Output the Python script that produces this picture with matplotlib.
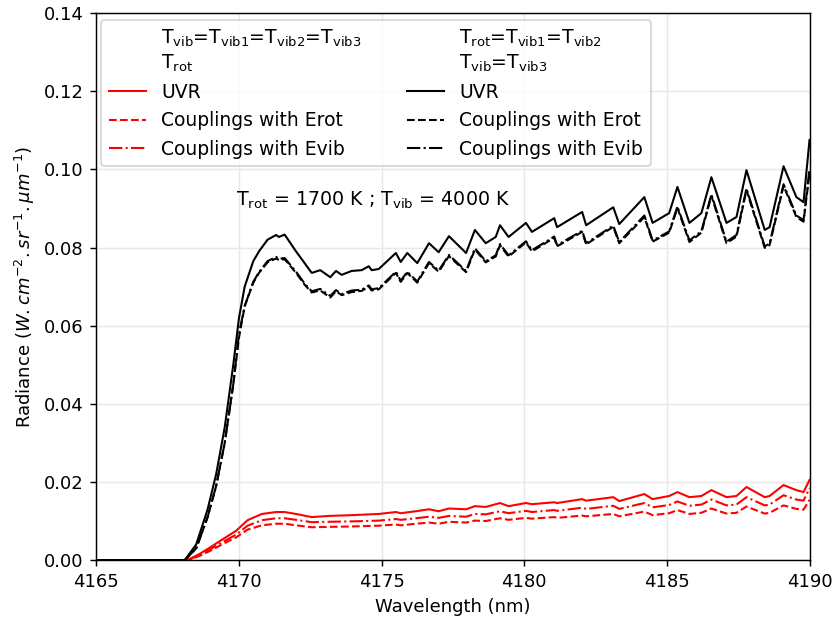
import matplotlib
matplotlib.use("Agg")
import matplotlib.pyplot as plt
from matplotlib.lines import Line2D

# black curves : Trot=Tvib1=Tvib2, Tvib=Tvib3
wl_black = [4165.0, 4168.1, 4168.5, 4168.9, 4169.2, 4169.5, 4169.8, 4170.0, 4170.2, 4170.5,
            4170.7, 4171.0, 4171.3, 4171.4, 4171.6, 4172.0, 4172.3, 4172.55, 4172.85, 4173.2,
            4173.4, 4173.6, 4173.95, 4174.3, 4174.55, 4174.65, 4174.9, 4175.5, 4175.67, 4175.9,
            4176.25, 4176.66, 4177.0, 4177.36, 4177.96, 4178.27, 4178.65, 4179.0, 4179.15, 4179.45,
            4180.06, 4180.27, 4181.05, 4181.15, 4182.03, 4182.17, 4183.12, 4183.33, 4184.21, 4184.5,
            4185.08, 4185.37, 4185.79, 4186.21, 4186.56, 4187.09, 4187.44, 4187.79, 4188.43, 4188.6,
            4189.09, 4189.54, 4189.79, 4190.0]
uvr_black = [0, 0, 0.004, 0.013, 0.022, 0.034, 0.050, 0.062, 0.070, 0.0765,
             0.0790, 0.0820, 0.0832, 0.0827, 0.0833, 0.0790, 0.0760, 0.0735, 0.0742, 0.0724,
             0.0740, 0.0730, 0.0740, 0.0742, 0.0752, 0.0742, 0.0745, 0.0786, 0.0763, 0.0786,
             0.0760, 0.0811, 0.0788, 0.0829, 0.0786, 0.0845, 0.0811, 0.0827, 0.0857, 0.0827,
             0.0863, 0.0840, 0.0875, 0.0852, 0.0891, 0.0857, 0.0903, 0.0860, 0.0929, 0.0863,
             0.0888, 0.0955, 0.0863, 0.0888, 0.0980, 0.0863, 0.0878, 0.0998, 0.0845, 0.0852,
             0.1008, 0.0929, 0.0916, 0.1075]
erot_black = [0, 0, 0.003, 0.011, 0.019, 0.030, 0.045, 0.057, 0.065, 0.0710,
              0.0735, 0.0762, 0.0772, 0.0768, 0.0770, 0.0735, 0.0705, 0.0685, 0.0690, 0.0672,
              0.0688, 0.0678, 0.0686, 0.0689, 0.0700, 0.0690, 0.0693, 0.0735, 0.0712, 0.0735,
              0.0710, 0.0760, 0.0738, 0.0778, 0.0737, 0.0795, 0.0762, 0.0777, 0.0806, 0.0777,
              0.0813, 0.0790, 0.0825, 0.0803, 0.0840, 0.0808, 0.0853, 0.0811, 0.0878, 0.0815,
              0.0838, 0.0901, 0.0814, 0.0838, 0.0932, 0.0811, 0.0828, 0.0947, 0.0799, 0.0806,
              0.0958, 0.0878, 0.0866, 0.0990]
evib_black = [0, 0, 0.003, 0.011, 0.019, 0.030, 0.045, 0.058, 0.065, 0.0712,
              0.0737, 0.0765, 0.0776, 0.0771, 0.0773, 0.0738, 0.0708, 0.0688, 0.0694, 0.0676,
              0.0691, 0.0681, 0.0690, 0.0692, 0.0703, 0.0693, 0.0696, 0.0738, 0.0715, 0.0738,
              0.0713, 0.0763, 0.0741, 0.0781, 0.0740, 0.0798, 0.0765, 0.0780, 0.0809, 0.0780,
              0.0816, 0.0793, 0.0828, 0.0806, 0.0843, 0.0811, 0.0856, 0.0814, 0.0882, 0.0818,
              0.0841, 0.0905, 0.0818, 0.0842, 0.0936, 0.0815, 0.0832, 0.0951, 0.0803, 0.0810,
              0.0962, 0.0882, 0.0870, 0.1000]

# red curves : Tvib=Tvib1=Tvib2=Tvib3, Trot
wl_red = [4165.0, 4168.2, 4168.6, 4169.0, 4169.4, 4169.9, 4170.3, 4170.8, 4171.3, 4171.6,
          4172.0, 4172.55, 4173.15, 4173.95, 4174.9, 4175.5, 4175.67, 4176.2, 4176.66, 4177.0,
          4177.36, 4177.96, 4178.27, 4178.65, 4179.15, 4179.45, 4180.06, 4180.27, 4181.05, 4181.15,
          4182.03, 4182.17, 4183.12, 4183.33, 4184.21, 4184.5, 4185.08, 4185.37, 4185.79, 4186.21,
          4186.56, 4187.09, 4187.44, 4187.79, 4188.43, 4188.6, 4189.09, 4189.54, 4189.79, 4190.0]
uvr_red = [0, 0, 0.0015, 0.0033, 0.0052, 0.0075, 0.0102, 0.0118, 0.0123, 0.0123,
           0.0118, 0.0110, 0.0113, 0.0115, 0.0118, 0.0123, 0.0120, 0.0125, 0.0130, 0.0125,
           0.0132, 0.0130, 0.0138, 0.0136, 0.0146, 0.0138, 0.0146, 0.0143, 0.0148, 0.0146,
           0.0156, 0.0152, 0.0161, 0.0151, 0.0169, 0.0156, 0.0164, 0.0174, 0.0161, 0.0164,
           0.0179, 0.0161, 0.0164, 0.0187, 0.0161, 0.0164, 0.0192, 0.0179, 0.0174, 0.0205]
evib_red = [0, 0, 0.0012, 0.0028, 0.0045, 0.0065, 0.0088, 0.0102, 0.0107, 0.0107,
            0.0103, 0.0097, 0.0098, 0.0099, 0.0101, 0.0105, 0.0103, 0.0107, 0.0111, 0.0108,
            0.0113, 0.0111, 0.0118, 0.0117, 0.0125, 0.0120, 0.0126, 0.0123, 0.0128, 0.0126,
            0.0134, 0.0131, 0.0139, 0.0131, 0.0146, 0.0135, 0.0141, 0.0150, 0.0139, 0.0142,
            0.0155, 0.0140, 0.0142, 0.0161, 0.0140, 0.0142, 0.0166, 0.0155, 0.0152, 0.0184]
erot_red = [0, 0, 0.0010, 0.0024, 0.0040, 0.0058, 0.0078, 0.0089, 0.0093, 0.0093,
            0.0089, 0.0084, 0.0085, 0.0086, 0.0088, 0.0091, 0.0089, 0.0093, 0.0096, 0.0093,
            0.0098, 0.0096, 0.0101, 0.0100, 0.0107, 0.0103, 0.0108, 0.0106, 0.0110, 0.0108,
            0.0114, 0.0112, 0.0118, 0.0112, 0.0124, 0.0115, 0.0120, 0.0128, 0.0118, 0.0121,
            0.0132, 0.0119, 0.0121, 0.0137, 0.0119, 0.0121, 0.0140, 0.0131, 0.0129, 0.0154]

lw = 1.15

# drawn at dpi 130 so ticks / fonts scale like the original
fig = plt.figure(figsize=(838 / 130, 623 / 130), dpi=130)
ax = fig.add_axes([0.115, 0.101, 0.851, 0.878])

ax.plot(wl_red, uvr_red, color='red', ls='-', lw=lw)
ax.plot(wl_red, erot_red, color='red', ls='--', lw=lw)
ax.plot(wl_red, evib_red, color='red', ls='-.', lw=lw)
ax.plot(wl_black, uvr_black, color='black', ls='-', lw=lw)
ax.plot(wl_black, erot_black, color='black', ls='--', lw=lw)
ax.plot(wl_black, evib_black, color='black', ls='-.', lw=lw)

ax.set_xlim(4165, 4190)
ax.set_ylim(0, 0.14)
ax.set_xticks([4165, 4170, 4175, 4180, 4185, 4190])
ax.set_yticks([0, 0.02, 0.04, 0.06, 0.08, 0.10, 0.12, 0.14])
ax.grid(True, color='#e8e8e8', lw=0.8)
ax.set_axisbelow(True)
ax.set_xlabel('Wavelength (nm)')
ax.set_ylabel(r'Radiance ($W.cm^{-2}.sr^{-1}.\mu m^{-1}$)')

ax.text(4169.9, 0.092, r'T$_{\rm rot}$ = 1700 K ; T$_{\rm vib}$ = 4000 K',
        va='center', ha='left', fontsize=10.5)

blank = Line2D([], [], color='none')
handles = [blank,
           Line2D([], [], color='red', ls='-', lw=lw),
           Line2D([], [], color='red', ls='--', lw=lw),
           Line2D([], [], color='red', ls='-.', lw=lw),
           blank,
           Line2D([], [], color='black', ls='-', lw=lw),
           Line2D([], [], color='black', ls='--', lw=lw),
           Line2D([], [], color='black', ls='-.', lw=lw)]
labels = [r'T$_{\rm vib}$=T$_{\rm vib1}$=T$_{\rm vib2}$=T$_{\rm vib3}$' + '\n' + r'T$_{\rm rot}$',
          'UVR', 'Couplings with Erot', 'Couplings with Evib',
          r'T$_{\rm rot}$=T$_{\rm vib1}$=T$_{\rm vib2}$' + '\n' + r'T$_{\rm vib}$=T$_{\rm vib3}$',
          'UVR', 'Couplings with Erot', 'Couplings with Evib']
ax.legend(handles, labels, ncol=2, loc='upper left', bbox_to_anchor=(0.007, 0.987),
          borderaxespad=0, fontsize=10.4, handlelength=2.0, labelspacing=0.5,
          columnspacing=2.4, borderpad=0.4)

fig.savefig('out.png', dpi=130)
